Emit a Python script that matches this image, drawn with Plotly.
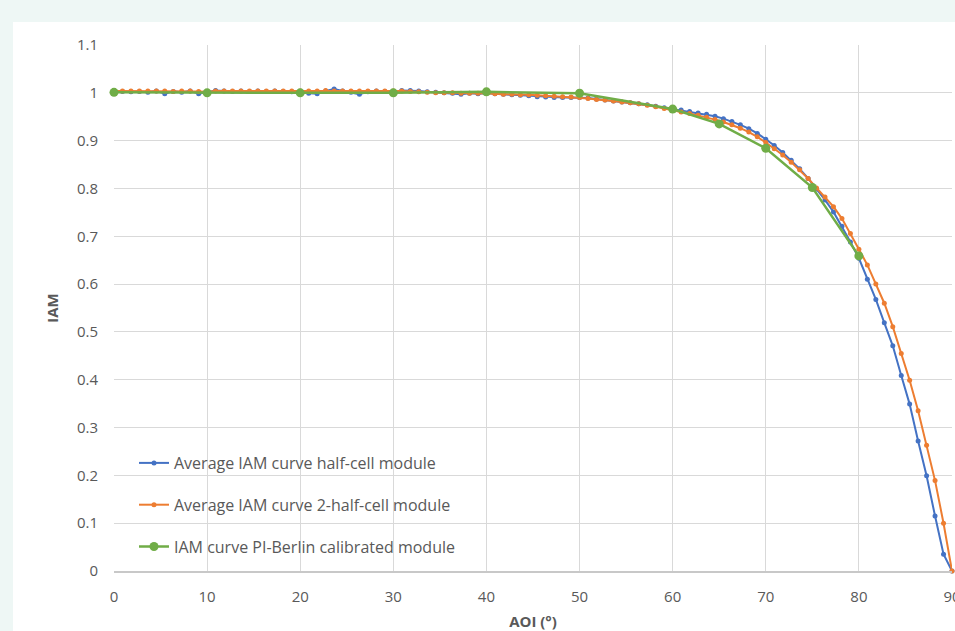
import plotly.graph_objects as go

# ---------------- data ----------------
aoi = [0, 0.91, 1.82, 2.73, 3.64, 4.55, 5.45, 6.36, 7.27, 8.18, 9.09,
       10.0, 10.91, 11.82, 12.73, 13.64, 14.55, 15.45, 16.36, 17.27, 18.18, 19.09,
       20.0, 20.91, 21.82, 22.73, 23.64, 24.55, 25.45, 26.36, 27.27, 28.18, 29.09,
       30.0, 30.91, 31.82, 32.73, 33.64, 34.55, 35.45, 36.36, 37.27, 38.18, 39.09,
       40.0, 40.91, 41.82, 42.73, 43.64, 44.55, 45.45, 46.36, 47.27, 48.18, 49.09,
       50.0, 50.91, 51.82, 52.73, 53.64, 54.55, 55.45, 56.36, 57.27, 58.18, 59.09,
       60.0, 60.91, 61.82, 62.73, 63.64, 64.55, 65.45, 66.36, 67.27, 68.18, 69.09,
       70.0, 70.91, 71.82, 72.73, 73.64, 74.55, 75.45, 76.36, 77.27, 78.18, 79.09,
       80.0, 80.91, 81.82, 82.73, 83.64, 84.55, 85.45, 86.36, 87.27, 88.18, 89.09, 90.0]

iam_half_cell = [1.002, 1.003, 1.002, 1.003, 1.001, 1.004, 0.998, 1.003, 1.001, 1.004, 0.998,
                 1.002, 1.005, 1.004, 1.003, 1.004, 1.003, 1.004, 1.003, 1.004, 1.003, 1.002,
                 1.001, 0.999, 0.998, 1.004, 1.008, 1.004, 1.001, 0.997, 1.002, 1.004, 1.003,
                 1.002, 1.005, 1.005, 1.004, 1.002, 1.001, 1.000, 0.999, 0.997, 0.999, 0.998,
                 0.999, 0.998, 0.997, 0.996, 0.995, 0.994, 0.992, 0.991, 0.990, 0.990, 0.990,
                 0.990, 0.989, 0.987, 0.985, 0.983, 0.981, 0.979, 0.977, 0.975, 0.972, 0.969,
                 0.966, 0.964, 0.961, 0.958, 0.955, 0.951, 0.946, 0.940, 0.933, 0.925, 0.915,
                 0.903, 0.890, 0.875, 0.859, 0.841, 0.821, 0.799, 0.776, 0.751, 0.721, 0.688,
                 0.654, 0.610, 0.568, 0.519, 0.471, 0.409, 0.349, 0.272, 0.199, 0.115, 0.035, 0.0]

iam_2_half_cell = [1.004, 1.004, 1.004, 1.004, 1.004, 1.004, 1.004, 1.003, 1.004, 1.004, 1.003,
                   1.002, 1.004, 1.004, 1.004, 1.004, 1.004, 1.004, 1.004, 1.004, 1.004, 1.004,
                   1.004, 1.004, 1.004, 1.005, 1.004, 1.004, 1.004, 1.004, 1.004, 1.004, 1.004,
                   1.004, 1.004, 1.003, 1.002, 1.001, 1.000, 1.000, 1.000, 0.999, 0.999, 0.999,
                   0.999, 0.998, 0.997, 0.997, 0.996, 0.996, 0.995, 0.994, 0.993, 0.992, 0.991,
                   0.990, 0.988, 0.986, 0.985, 0.983, 0.981, 0.979, 0.977, 0.974, 0.971, 0.967,
                   0.963, 0.960, 0.957, 0.953, 0.949, 0.944, 0.939, 0.933, 0.926, 0.918, 0.908,
                   0.896, 0.883, 0.870, 0.855, 0.839, 0.821, 0.801, 0.782, 0.762, 0.737, 0.706,
                   0.673, 0.640, 0.600, 0.560, 0.511, 0.455, 0.399, 0.335, 0.263, 0.189, 0.100, 0.0]

aoi_pi_berlin = [0, 10, 20, 30, 40, 50, 60, 65, 70, 75, 80]
iam_pi_berlin = [1.001, 1.000, 1.000, 1.000, 1.002, 0.999, 0.966, 0.935, 0.884, 0.802, 0.659]

series_names = ["Average IAM curve half-cell module",
                "Average IAM curve 2-half-cell module",
                "IAM curve PI-Berlin calibrated module"]

x_ticks = [0, 10, 20, 30, 40, 50, 60, 70, 80, 90]
y_ticks = [0, 0.1, 0.2, 0.3, 0.4, 0.5, 0.6, 0.7, 0.8, 0.9, 1.0, 1.1]
y_tick_text = ["0", "0.1", "0.2", "0.3", "0.4", "0.5", "0.6", "0.7", "0.8", "0.9", "1", "1.1"]

# ---------------- figure ----------------
BLUE, ORANGE, GREEN = "#4472C4", "#ED7D31", "#70AD47"
TXT = "#595959"
FONT = "Open Sans"

fig = go.Figure()
fig.add_trace(go.Scatter(x=aoi, y=iam_half_cell, name=series_names[0], mode="lines+markers",
                         line=dict(color=BLUE, width=2), marker=dict(color=BLUE, size=5),
                         legendgroup="a", cliponaxis=False))
fig.add_trace(go.Scatter(x=aoi, y=iam_2_half_cell, name=series_names[1], mode="lines+markers",
                         line=dict(color=ORANGE, width=2), marker=dict(color=ORANGE, size=5),
                         legendgroup="b", cliponaxis=False))
fig.add_trace(go.Scatter(x=aoi_pi_berlin, y=iam_pi_berlin, name=series_names[2], mode="lines+markers",
                         line=dict(color=GREEN, width=2.5), marker=dict(color=GREEN, size=9),
                         legendgroup="c", cliponaxis=False))

W, H = 955, 631
L, R, T, B = 114, 3, 45, 60
pw, ph = W - L - R, H - T - B

def px_x(p):
    return (p - L) / pw

def px_y(p):
    return (H - B - p) / ph

# white panel on mint background
fig.add_shape(type="rect", xref="paper", yref="paper", layer="below",
              x0=px_x(13), x1=px_x(970), y0=px_y(650), y1=px_y(22),
              fillcolor="white", line=dict(width=0))

fig.update_layout(
    width=W, height=H,
    margin=dict(l=L, r=R, t=T, b=B, autoexpand=False),
    paper_bgcolor="#EEF7F5",
    plot_bgcolor="white",
    font=dict(family=FONT, color=TXT, size=15),
    showlegend=True,
    legend=dict(x=px_x(134), xanchor="left", y=px_y(446), yanchor="top",
                bgcolor="rgba(0,0,0,0)", font=dict(size=16, color=TXT, family=FONT),
                traceorder="grouped", tracegroupgap=18, itemwidth=30),
    xaxis=dict(range=[0, 90], tickvals=x_ticks, showgrid=True, gridcolor="#D9D9D9", gridwidth=1,
               zeroline=False, showline=True, linecolor="#C8C8C8", linewidth=1.5,
               automargin=False,
               ticks="", ticklabelstandoff=11, ticklabeloverflow="allow",
               tickfont=dict(size=15, color=TXT),
               title=dict(text="<b>AOI (°)</b>", font=dict(size=15, color=TXT), standoff=16)),
    yaxis=dict(range=[0, 1.1], tickvals=y_ticks, ticktext=y_tick_text, showgrid=True,
               gridcolor="#D9D9D9", gridwidth=1, zeroline=False, showline=False,
               automargin=False,
               ticks="", ticklabelstandoff=15, tickfont=dict(size=15, color=TXT),
               title=dict(text="<b>IAM</b>", font=dict(size=15, color=TXT), standoff=14)),
)

fig.write_html("out.html", config={"displayModeBar": False},
               post_script="document.body.style.margin='0';document.body.style.overflow='hidden';")
